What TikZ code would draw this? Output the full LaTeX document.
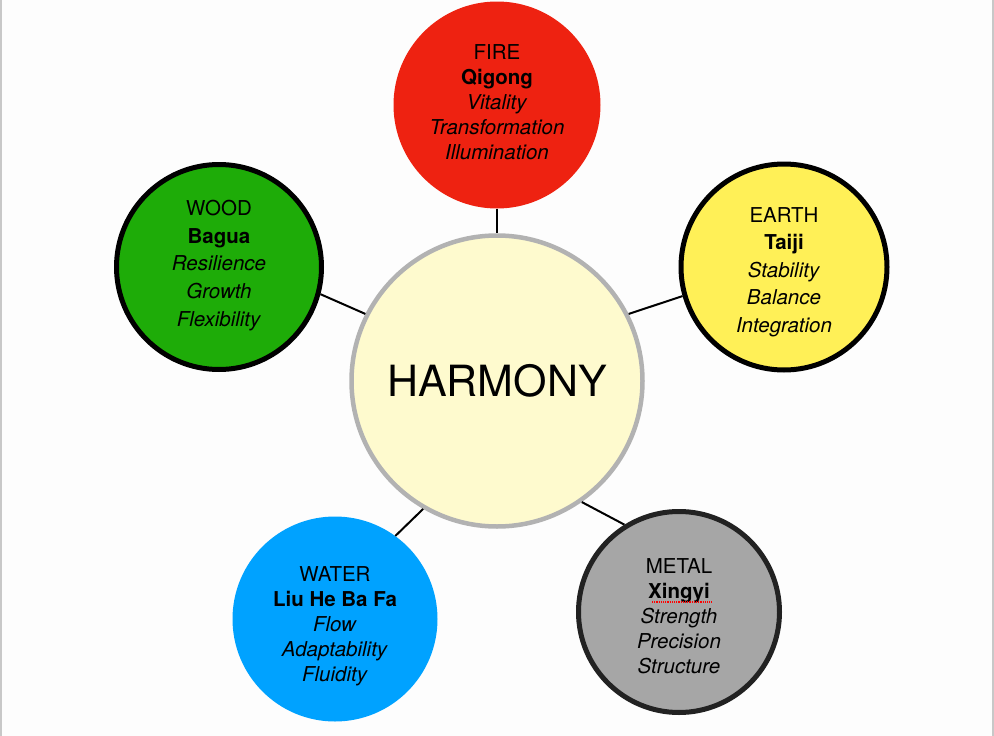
\documentclass[tikz,border=0pt]{standalone}
\usepackage{fontspec}
\setmainfont{TeX Gyre Heros}
\definecolor{pagebg}{RGB}{253,253,253}
\definecolor{framegray}{RGB}{200,200,200}
\definecolor{firec}{RGB}{238,34,17}
\definecolor{woodc}{RGB}{30,172,8}
\definecolor{earthc}{RGB}{255,240,87}
\definecolor{waterc}{RGB}{0,162,255}
\definecolor{metalc}{RGB}{166,166,166}
\definecolor{metalborder}{RGB}{34,34,34}
\definecolor{harmfill}{RGB}{254,250,206}
\definecolor{harmborder}{RGB}{178,178,178}
\begin{document}
\begin{tikzpicture}[x=1pt,y=-1pt,
  elem/.style={circle, inner sep=0pt},
  ringed/.style={draw=black, line width=5pt},
  elemtext/.style={inner sep=0pt, align=center, text=black,
    font=\fontsize{20.5}{25}\selectfont},
  widetext/.style={elemtext, font=\fontsize{20.5}{27.6}\selectfont},
  link/.style={draw=black, line width=2pt}]
\fill[pagebg] (0,0) rectangle (994,736);
\useasboundingbox (0,0) rectangle (994,736);
\draw[framegray, line width=2pt] (1,0) -- (1,736);
\draw[framegray, line width=2pt] (993,0) -- (993,736);

\node[circle, fill=harmfill, draw=harmborder, line width=4.5pt,
  minimum size=291pt, inner sep=0pt, font=\fontsize{43}{50}\selectfont]
  (h) at (497,381) {HARMONY};

\node[elem, fill=firec, minimum size=207pt] (fire) at (497,105) {};
\node[elem, ringed, fill=woodc, minimum size=205pt] (wood) at (219,267) {};
\node[elem, ringed, fill=earthc, minimum size=206pt] (earth) at (784,267) {};
\node[elem, fill=waterc, minimum size=205pt] (water) at (335,619) {};
\node[elem, ringed, draw=metalborder, fill=metalc, minimum size=201pt] (metal) at (679,612) {};

\node[elemtext, yshift=3pt] (firetext) at (fire)
  {FIRE\\\textbf{Qigong}\\\textit{Vitality}\\\textit{Transformation}\\\textit{Illumination}};
\node[widetext, yshift=1.5pt] (woodtext) at (wood)
  {WOOD\\\textbf{Bagua}\\\textit{Resilience}\\\textit{Growth}\\\textit{Flexibility}};
\node[widetext, yshift=-5pt] (earthtext) at (earth)
  {EARTH\\\textbf{Taiji}\\\textit{Stability}\\\textit{Balance}\\\textit{Integration}};
\node[elemtext, yshift=-7pt] (watertext) at (water)
  {WATER\\\textbf{Liu He Ba Fa}\\\textit{Flow}\\\textit{Adaptability}\\\textit{Fluidity}};
\node[elemtext, yshift=-4pt] (metaltext) at (metal)
  {METAL\\\textbf{Xingyi}\\\textit{Strength}\\\textit{Precision}\\\textit{Structure}};

\coordinate (sqA) at (652,602);
\coordinate (sqB) at (712,602);
\draw[red, densely dotted, line width=1.2pt] (sqA) -- (sqB);

\draw[link] (fire.270) -- (h.90);
\draw[link] (wood.345) -- (h.153);
\draw[link] (earth.196) -- (h.27);
\draw[link] (water.54) -- (h.240);
\draw[link] (metal.122) -- (h.305);
\end{tikzpicture}
\end{document}
